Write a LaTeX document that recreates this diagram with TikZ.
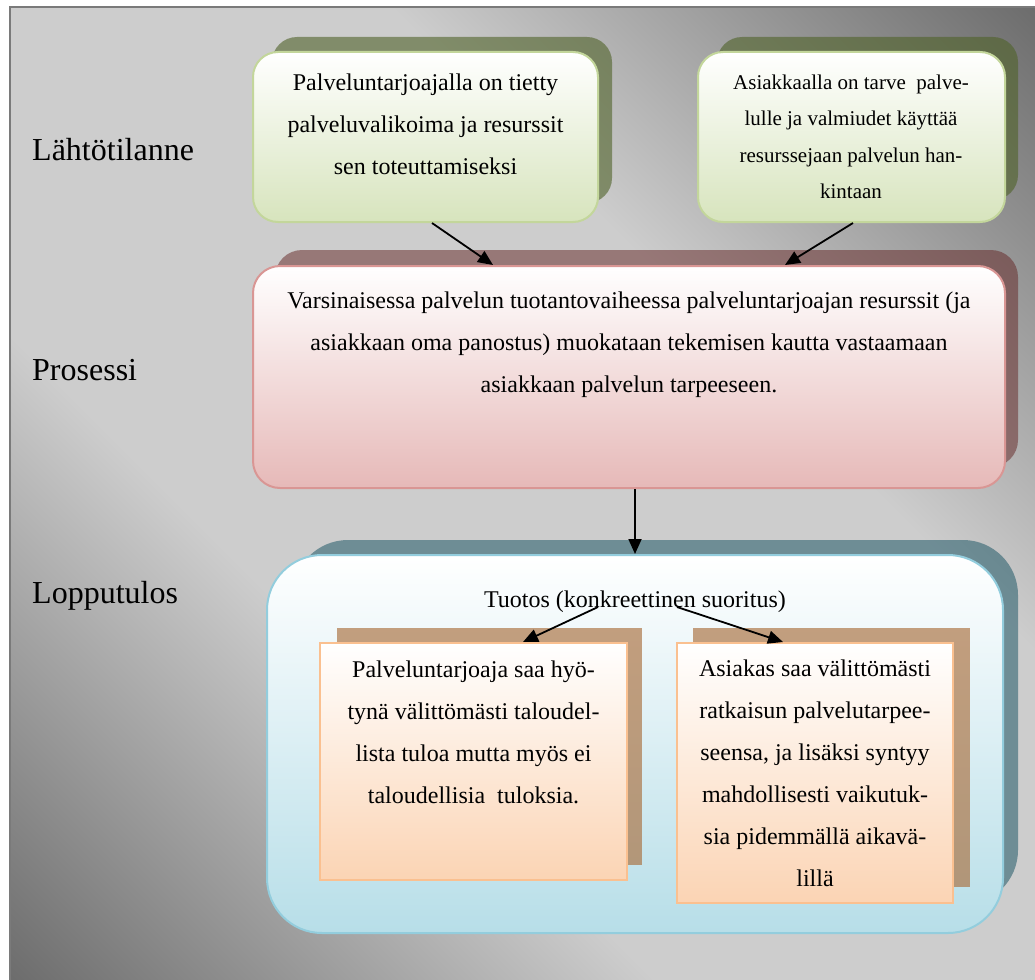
\documentclass[tikz,border=0pt]{standalone}
\usepackage{fontspec}
\setmainfont{Liberation Serif}
\usetikzlibrary{arrows.meta}

\definecolor{bgdark}{HTML}{6B6B6B}
\definecolor{bglight}{HTML}{CDCDCD}
\definecolor{framegray}{HTML}{7A7A7A}
\definecolor{greenshade}{HTML}{4F6228}
\definecolor{greenfill}{HTML}{D7E4BD}
\definecolor{greenline}{HTML}{C3D69B}
\definecolor{redshade}{HTML}{632423}
\definecolor{redfill}{HTML}{E6B9B8}
\definecolor{redline}{HTML}{D99694}
\definecolor{blueshade}{HTML}{215968}
\definecolor{bluefill}{HTML}{B7DEE8}
\definecolor{blueline}{HTML}{93CDDD}
\definecolor{orangeshade}{HTML}{A96E3C}
\definecolor{orangefill}{HTML}{FBD4B4}
\definecolor{orangeline}{HTML}{FAC090}

\begin{document}
\begin{tikzpicture}[x=1pt,y=-1pt,
  panel/.style={draw, line width=2pt, inner sep=0pt},
  greenpanel/.style={panel, rounded corners=25pt, draw=greenline, top color=white, bottom color=greenfill},
  redpanel/.style={panel, rounded corners=27pt, draw=redline, top color=white, bottom color=redfill},
  bluepanel/.style={panel, rounded corners=55pt, draw=blueline, top color=white, bottom color=bluefill},
  orangepanel/.style={panel, draw=orangeline, top color=white, bottom color=orangefill},
  greenback/.style={fill=greenshade, opacity=0.6, rounded corners=25pt},
  redback/.style={fill=redshade, opacity=0.5, rounded corners=27pt},
  blueback/.style={fill=blueshade, opacity=0.55, rounded corners=55pt},
  orangeback/.style={fill=orangeshade, opacity=0.65},
  body/.style={inner sep=0pt, align=center, anchor=north, font=\fontsize{24}{42}\selectfont},
  smallbody/.style={inner sep=0pt, align=center, anchor=north, font=\fontsize{21}{36.5}\selectfont},
  stage/.style={inner sep=0pt, anchor=base west, font=\fontsize{32}{38}\selectfont},
  arr/.style={-{Triangle[length=15pt,width=13pt]}, line width=1.8pt, black}
]
\useasboundingbox (0,0) rectangle (1035,979);
\clip (0,0) rectangle (1035,979);

% backdrop: light band along the main diagonal, darker towards the other corners
\begin{scope}
  \clip (10,7) rectangle (1045,989);
  \begin{scope}[transform canvas={rotate around={-45:(527.5,498)}}]
    \fill[bglight] (-300,247) rectangle (1355,749);
    \shade[top color=bgdark, bottom color=bglight]
      (-300,-215) rectangle (1355,248);
    \shade[top color=bglight, bottom color=bgdark]
      (-300,748) rectangle (1355,1211);
  \end{scope}
\end{scope}
\draw[line width=2pt, framegray] (10,7) rectangle (1045,989);

% stage labels
\node[stage] (l1) at (32,160) {Lähtötilanne};
\node[stage] (l2) at (32,380) {Prosessi};
\node[stage] (l3) at (32,603) {Lopputulos};

% starting situation
\fill[greenback] (272,37) rectangle (612,203);
\fill[greenback] (717,37) rectangle (1018,200);
\node[greenpanel, minimum width=345pt, minimum height=170pt] (g1) at (425.5,137) {};
\node[greenpanel, minimum width=307pt, minimum height=170pt] (g2) at (851.5,137) {};
\node[body] (g1t) at (425.5,61.3)
  {\strut Palveluntarjoajalla on tietty\\palveluvalikoima ja resurssit\\sen toteuttamiseksi};
\node[smallbody] (g2t) at (851,63.4)
  {\strut Asiakkaalla on tarve\ \ palve-\\lulle ja valmiudet käyttää\\resurssejaan palvelun han-\\kintaan};

% process
\fill[redback] (275,250) rectangle (1018,467);
\node[redpanel, minimum width=752pt, minimum height=222pt] (p) at (629,377) {};
\node[body] (pt) at (629,278.6)
  {\strut Varsinaisessa palvelun tuotantovaiheessa palveluntarjoajan resurssit (ja\\asiakkaan oma panostus) muokataan tekemisen kautta vastaamaan\\asiakkaan palvelun tarpeeseen.};

% outcome
\fill[blueback] (293,540) rectangle (1018,905);
\node[bluepanel, minimum width=736pt, minimum height=378pt] (b) at (635,744) {};
\node[inner sep=0pt, anchor=base, font=\fontsize{24}{42}\selectfont] (tuo) at (635,607)
  {Tuotos (konkreettinen suoritus)};

\fill[orangeback] (337,628) rectangle (642,865);
\fill[orangeback] (693,628) rectangle (970,887);
\node[orangepanel, minimum width=307pt, minimum height=237pt] (o1) at (473.5,761.5) {};
\node[orangepanel, minimum width=276pt, minimum height=260pt] (o2) at (815,773) {};
\node[body] (o1t) at (473.5,647.6)
  {\strut Palveluntarjoaja saa hyö-\\tynä välittömästi taloudel-\\lista tuloa mutta myös ei\\taloudellisia\ \ tuloksia.};
\node[body] (o2t) at (815,646.6)
  {\strut Asiakas saa välittömästi\\ratkaisun palvelutarpee-\\seensa, ja lisäksi syntyy\\mahdollisesti vaikutuk-\\sia pidemmällä aikavä-\\lillä};

% connectors
\draw[arr] ([xshift=6.5pt]g1.south) -- ([xshift=-136pt]p.north);
\draw[arr] ([xshift=1.5pt]g2.south) -- ([xshift=156pt]p.north);
\draw[arr] ([xshift=6pt]p.south) -- (b.north);
\draw[arr] ([xshift=-37pt]tuo.base) -- ([xshift=49.5pt]o1.north);
\draw[arr] ([xshift=42pt]tuo.base) -- ([xshift=-32pt]o2.north);
\end{tikzpicture}
\end{document}
